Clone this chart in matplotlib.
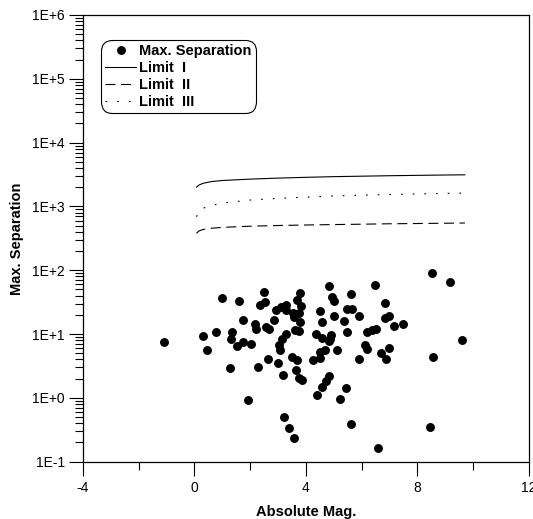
import matplotlib
matplotlib.use("Agg")
import matplotlib.pyplot as plt
from matplotlib.ticker import FixedLocator, LogLocator, NullFormatter, FixedFormatter

plt.rcParams['font.family'] = ['Liberation Sans', 'DejaVu Sans']

# Scatter data: absolute magnitude vs max. separation
abs_mag = [-1.08, 0.31, 0.46, 0.76, 0.99, 1.34, 1.32, 1.29, 1.59, 1.54,
           1.74, 1.74, 1.92, 2.04, 2.18, 2.20, 2.28, 2.34, 2.48, 2.54,
           2.57, 2.67, 2.65, 2.86, 2.94, 2.98, 3.03, 3.08, 3.11, 3.18,
           3.15, 3.22, 3.27, 3.30, 3.30, 3.39, 3.54, 3.57, 3.51, 3.56,
           3.59, 3.63, 3.68, 3.74, 3.86, 3.79, 3.68, 3.82, 3.74, 3.80,
           3.75, 4.25, 4.35, 4.41, 4.50, 4.50, 4.52, 4.57, 4.57, 4.58,
           4.67, 4.73, 4.81, 4.82, 4.81, 4.87, 4.89, 4.95, 5.00, 5.02,
           5.13, 5.23, 5.36, 5.45, 5.48, 5.64, 5.48, 5.61, 5.62, 5.91,
           5.91, 6.10, 6.18, 6.20, 6.38, 6.50, 6.49, 6.58, 6.68, 6.85,
           6.83, 6.99, 6.88, 6.96, 7.15, 7.48, 8.51, 9.15, 9.59, 8.57,
           8.46]
max_sep = [7.6, 9.3, 5.7, 10.6, 37, 10.8, 8.3, 2.9, 33, 6.5,
           16.6, 7.5, 0.92, 7.0, 14.2, 12.2, 3.1, 29, 46, 31.7,
           12.9, 11.8, 4.0, 16.7, 23.6, 3.5, 6.7, 5.7, 26.5, 2.3,
           8.5, 0.51, 28.2, 24, 9.9, 0.34, 21.3, 0.233, 4.3, 18.2,
           11.7, 2.76, 3.86, 2.05, 1.92, 43.5, 34.4, 27.9, 21.3, 15.7,
           11.1, 3.86, 10.0, 1.12, 23.4, 4.2, 5.3, 15.4, 8.7, 1.46,
           5.6, 1.87, 2.22, 56.6, 7.7, 8.3, 9.7, 38.4, 32.6, 18.9,
           5.7, 0.97, 16.3, 1.42, 24.3, 24.5, 10.7, 42.5, 0.39, 19.3,
           4.1, 6.7, 5.9, 10.7, 11.5, 12.0, 58.5, 0.166, 5.0, 30.6,
           17.9, 19.0, 4.06, 6.0, 13.6, 14.5, 92, 66, 8.1, 4.4,
           0.35]

# Limit curves
lim1_x = [0.07, 0.15, 0.3, 0.6, 1.0, 2.0, 3.0, 4.0, 5.0, 6.0, 7.0, 8.0, 9.0, 9.7]
lim1_y = [2000, 2150, 2300, 2450, 2550, 2680, 2780, 2860, 2930, 2980, 3030, 3070, 3110, 3130]
lim2_x = [0.07, 0.15, 0.3, 0.6, 1.0, 2.0, 3.0, 4.0, 5.0, 6.0, 7.0, 8.0, 9.0, 9.7]
lim2_y = [380, 410, 435, 455, 470, 490, 503, 512, 520, 527, 535, 540, 546, 550]
lim3_x = [0.07, 0.15, 0.3, 0.5, 1.0, 2.0, 3.0, 4.0, 5.0, 6.0, 7.0, 8.0, 9.0, 9.7]
lim3_y = [690, 820, 930, 1010, 1130, 1260, 1340, 1400, 1460, 1500, 1540, 1570, 1600, 1620]

x_ticks = [-4, 0, 4, 8, 12]
x_tick_labels = ['-4', '0', '4', '8', '12']
y_ticks = [1e-1, 1e0, 1e1, 1e2, 1e3, 1e4, 1e5, 1e6]
y_tick_labels = ['1E-1', '1E+0', '1E+1', '1E+2', '1E+3', '1E+4', '1E+5', '1E+6']

fig = plt.figure(figsize=(5.33, 5.19), dpi=100)
ax = fig.add_axes([0.1557, 0.1104, 0.8368, 0.8607])

ax.plot(abs_mag, max_sep, 'o', color='black', markersize=5.4, label='Max. Separation', zorder=3)
ax.plot(lim1_x, lim1_y, '-', color='black', lw=0.8, label='Limit  I')
ax.plot(lim2_x, lim2_y, color='black', lw=0.8, dashes=(9, 5), label='Limit  II')
ax.plot(lim3_x, lim3_y, color='black', lw=0.8, dashes=(1.5, 9), label='Limit  III')

ax.set_yscale('log')
ax.set_xlim(-4, 12)
ax.set_ylim(1e-1, 1e6)

ax.xaxis.set_major_locator(FixedLocator(x_ticks))
ax.xaxis.set_major_formatter(FixedFormatter(x_tick_labels))
ax.xaxis.set_minor_locator(FixedLocator([-2, 2, 6, 10]))
ax.yaxis.set_major_locator(FixedLocator(y_ticks))
ax.yaxis.set_major_formatter(FixedFormatter(y_tick_labels))
ax.yaxis.set_minor_locator(LogLocator(base=10, subs=range(2, 10), numticks=20))
ax.yaxis.set_minor_formatter(NullFormatter())

ax.tick_params(which='major', direction='out', length=10, width=0.8, labelsize=10, pad=3)
ax.tick_params(which='minor', direction='out', length=5.5, width=0.8)
ax.tick_params(axis='x', which='major', pad=4)
ax.tick_params(top=False, right=False, which='both')
for s in ax.spines.values():
    s.set_linewidth(0.9)

ax.set_xlabel('Absolute Mag.', fontsize=10.5, fontweight='bold', labelpad=7)
ax.set_ylabel('Max. Separation', fontsize=10.5, fontweight='bold', labelpad=6)

leg = ax.legend(loc='upper left', bbox_to_anchor=(0.04, 0.945),
                prop={'weight': 'bold', 'size': 10.5}, frameon=True, fancybox=True,
                edgecolor='black', handlelength=2.1, handletextpad=0.25,
                labelspacing=0.2, borderpad=0.3, borderaxespad=0)
leg.get_frame().set_linewidth(0.8)
leg.get_frame().set_alpha(None)
leg.get_frame().set_boxstyle('round', pad=0, rounding_size=0.8)

fig.savefig('out.png', dpi=100)
